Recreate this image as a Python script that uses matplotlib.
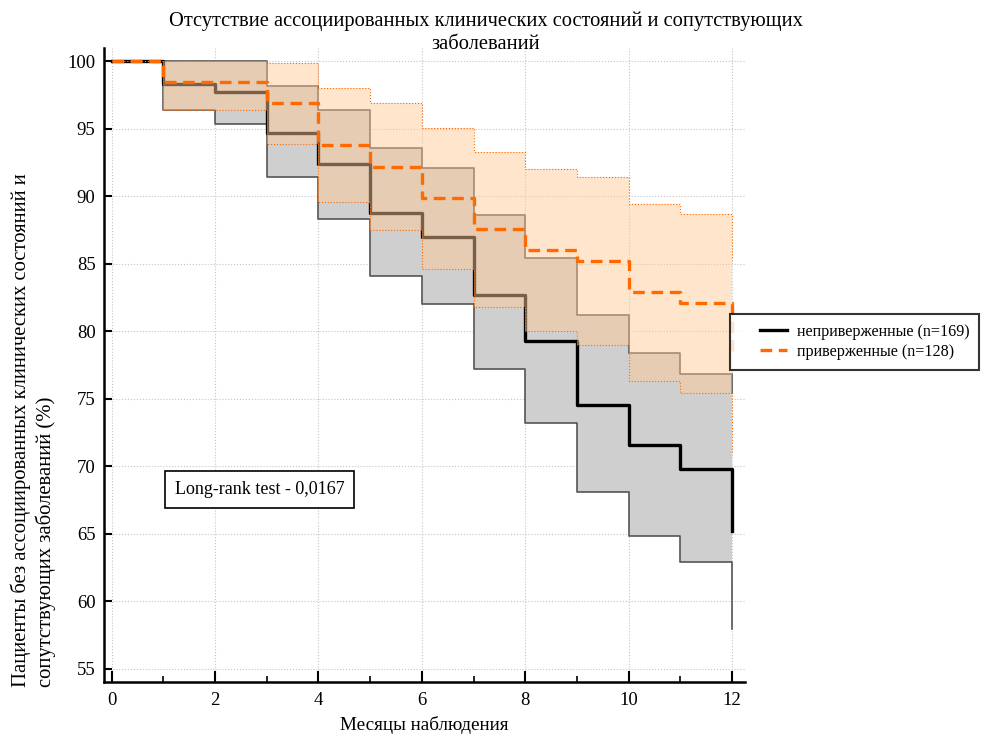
import numpy as np
import matplotlib.pyplot as plt
from matplotlib.ticker import MultipleLocator
from matplotlib.legend_handler import HandlerLine2D
from matplotlib.lines import Line2D

plt.rcParams['font.family'] = ['Liberation Serif', 'DejaVu Serif']

# months of follow-up (value at i holds on [i, i+1), last one is the drop at 12)
months = np.arange(0, 13)

# non-adherent (n=169)
nonadh = [100, 98.3, 97.7, 94.7, 92.4, 88.8, 87.0, 82.7, 79.3, 74.5, 71.6, 69.8, 65.2]
nonadh_hi = [100, 100, 100, 98.2, 96.4, 93.6, 92.1, 88.6, 85.4, 81.2, 78.4, 76.8, 75.4]
nonadh_lo = [100, 96.4, 95.4, 91.4, 88.3, 84.1, 82.0, 77.2, 73.2, 68.1, 64.8, 62.9, 57.9]

# adherent (n=128)
adh = [100, 98.5, 98.5, 96.9, 93.8, 92.2, 89.9, 87.6, 86.0, 85.2, 82.9, 82.1, 78.2]
adh_hi = [100, 100, 100, 99.9, 98.0, 96.9, 95.1, 93.3, 92.0, 91.4, 89.4, 88.7, 85.3]
adh_lo = [100, 96.4, 96.4, 93.9, 89.6, 87.5, 84.6, 81.8, 80.0, 79.0, 76.3, 75.4, 71.0]

orange = '#ff6a00'
peach = (1.0, 0.79, 0.585)

fig = plt.figure(figsize=(9.9, 7.37), dpi=100)
ax = fig.add_axes([0.105, 0.0746, 0.6475, 0.8603])

# non-adherent: grey band + black line
ax.fill_between(months, nonadh_lo, nonadh_hi, step='post', color='#cfcfcf', lw=0, zorder=1)
ax.plot(months, nonadh_hi, drawstyle='steps-post', color='#555555', lw=1.2, zorder=2)
ax.plot(months, nonadh_lo, drawstyle='steps-post', color='#555555', lw=1.2, zorder=2)
l1, = ax.plot(months, nonadh, drawstyle='steps-post', color='black', lw=2.4, zorder=3,
              label='неприверженные (n=169)')

# adherent: translucent peach band on top + dashed orange line
ax.fill_between(months, adh_lo, adh_hi, step='post', color=peach, alpha=0.48, lw=0, zorder=4)
ax.plot(months, adh_hi, drawstyle='steps-post', color=orange, lw=0.8, ls=':', zorder=5)
ax.plot(months, adh_lo, drawstyle='steps-post', color=orange, lw=0.8, ls=':', zorder=5)
l2, = ax.plot(months, adh, drawstyle='steps-post', color=orange, lw=2.4, ls=(0, (3.5, 2)), zorder=6,
              label='приверженные (n=128)')

ax.set_xlim(-0.15, 12.25)
ax.set_ylim(54.0, 101.0)
ax.xaxis.set_major_locator(MultipleLocator(2))
ax.xaxis.set_minor_locator(MultipleLocator(1))
ax.yaxis.set_major_locator(MultipleLocator(5))

for s in ['top', 'right']:
    ax.spines[s].set_visible(False)
for s in ['left', 'bottom']:
    ax.spines[s].set_linewidth(1.8)

ax.tick_params(axis='both', which='major', direction='in', width=1.5, labelsize=13.5)
ax.tick_params(axis='x', which='major', length=8, pad=7)
ax.tick_params(axis='y', which='major', length=6, pad=6)
ax.tick_params(axis='x', which='minor', direction='in', length=4, width=1.2)
ax.grid(True, which='major', color='#c4c4c4', ls=':', lw=0.8, zorder=0)
ax.set_axisbelow(True)

ax.set_xlabel('Месяцы наблюдения', fontsize=13.8, labelpad=5)

fig.text(0.491, 0.984, 'Отсутствие ассоциированных клинических состояний и сопутствующих\nзаболеваний',
         ha='center', va='top', fontsize=14.8, linespacing=1.3)
fig.text(0.034, 0.068, 'Пациенты без ассоциированных клинических состояний и\nсопутствующих заболеваний (%)',
         rotation=90, ha='center', va='bottom', multialignment='left', fontsize=14.9, linespacing=1.3)

ax.text(2.86, 68.3, 'Long-rank test - 0,0167', ha='center', va='center', fontsize=13,
        bbox=dict(boxstyle='square,pad=0.55', fc='white', ec='black', lw=1.2), zorder=10)

hmap = {Line2D: HandlerLine2D(xpad=1.27)}
leg = fig.legend(handles=[l1, l2], handler_map=hmap, loc='center left',
                 bbox_to_anchor=(0.737, 0.536), fontsize=11.6,
                 frameon=True, fancybox=False, edgecolor='black', handlelength=2.95,
                 handletextpad=0.62, borderpad=0.6, labelspacing=0.25, borderaxespad=0)
leg.get_frame().set_linewidth(1.5)

fig.savefig('out.png', dpi=100)
